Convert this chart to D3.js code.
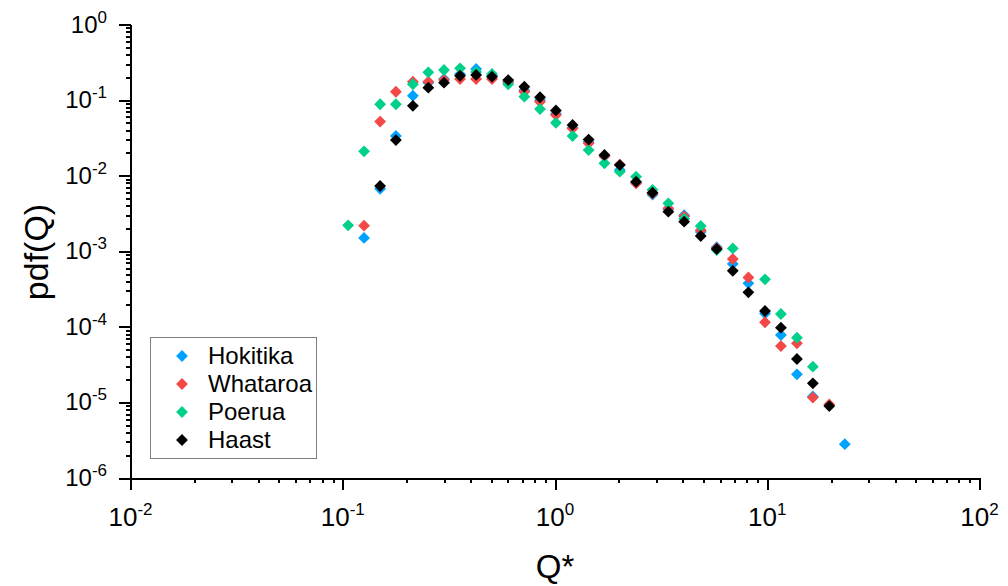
<!DOCTYPE html>
<html>
  <head>
    <meta charset="utf-8">
    <script src="https://d3js.org/d3.v7.min.js"></script>

    <style>
      body {
        margin: 0;
        background: white;
      }
      svg text {
        font-family: "Liberation Sans", Arial, sans-serif;
        fill: black;
      }
      .axis path, .axis line {
        stroke: black;
        stroke-width: 2px;
        shape-rendering: crispEdges;
      }
    </style>

    <script type="text/javascript">
      // Q* bin centres (shared by all four rivers)
      var qBins = [0.106, 0.126, 0.15, 0.178, 0.214, 0.253, 0.30, 0.357, 0.425, 0.505,
                   0.602, 0.717, 0.85, 1.01, 1.21, 1.44, 1.71, 2.02, 2.41, 2.88,
                   3.42, 4.06, 4.86, 5.78, 6.88, 8.15, 9.76, 11.6, 13.8, 16.4, 19.6, 23.2];

      // pdf values per river, null where the river has no point
      var hokitika = [null, 0.0015, 0.0067, 0.0335, 0.114, 0.17, 0.19, 0.22, 0.258, 0.21,
                      0.175, 0.135, 0.10, 0.066, 0.043, 0.028, 0.018, 0.0119, 0.0081, 0.0056,
                      0.0036, 0.0030, 0.0018, 0.00113, 0.00068, 0.000376, 0.00015, 0.000078, 0.0000235, 0.000012, null, 0.0000028];
      var whataroa = [null, 0.00218, 0.052, 0.129, 0.175, 0.175, 0.185, 0.19, 0.19, 0.19,
                      0.17, 0.129, 0.095, 0.0635, 0.042, 0.0268, 0.018, 0.014, 0.0079, 0.0058,
                      0.0037, 0.0029, 0.0019, 0.0011, 0.00079, 0.00045, 0.000115, 0.0000557, 0.0000605, 0.0000116, 0.0000094, null];
      var poerua = [0.0022, 0.021, 0.088, 0.088, 0.162, 0.233, 0.25, 0.263, 0.235, 0.222,
                    0.162, 0.111, 0.076, 0.05, 0.0335, 0.0218, 0.0146, 0.0113, 0.0097, 0.0065,
                    0.0043, 0.0027, 0.00216, 0.00104, 0.00109, null, 0.000425, 0.000148, 0.0000718, 0.0000297, null, null];
      var haast = [null, null, 0.0073, 0.0296, 0.084, 0.146, 0.17, 0.21, 0.215, 0.204,
                   0.184, 0.150, 0.109, 0.073, 0.0468, 0.030, 0.0188, 0.0138, 0.0083, 0.00595,
                   0.00334, 0.00246, 0.00159, 0.00107, 0.00055, 0.000286, 0.000162, 0.0000975, 0.0000375, 0.0000179, 0.00000895, null];

      var seriesNames = ["Hokitika", "Whataroa", "Poerua", "Haast"];
      var seriesValues = [hokitika, whataroa, poerua, haast];
      var seriesColors = ["#00a2ff", "#f24848", "#00d08a", "#000000"];

      // decade exponents for the tick labels
      var xExponents = [-2, -1, 0, 1, 2];
      var yExponents = [-6, -5, -4, -3, -2, -1, 0];

      function draw() {
          "use strict";
          var width = 1008,
              height = 586;

          var svg = d3.select("body")
            .append("svg")
            .attr("width", width)
            .attr("height", height);

          var x = d3.scaleLog().domain([1e-2, 1e2]).range([130.5, 979.5]);
          var y = d3.scaleLog().domain([1e-6, 1]).range([478, 24.5]);

          // majors at each decade, minors at 2..9
          function minors(exps) {
            var out = [];
            exps.slice(0, -1).forEach(function(e) {
              for (var k = 2; k <= 9; k++) out.push(k * Math.pow(10, e));
            });
            return out;
          }
          var xMajor = xExponents.map(function(e) { return Math.pow(10, e); });
          var yMajor = yExponents.map(function(e) { return Math.pow(10, e); });

          var xAxis = svg.append("g").attr("class", "axis")
            .attr("transform", "translate(0," + y.range()[0] + ")");
          xAxis.call(d3.axisBottom(x).tickValues(xMajor).tickSize(12).tickSizeOuter(0).tickFormat(""));
          xAxis.append("g")
            .call(d3.axisBottom(x).tickValues(minors(xExponents)).tickSize(5).tickFormat(""))
            .select(".domain").remove();

          var yAxis = svg.append("g").attr("class", "axis")
            .attr("transform", "translate(" + x.range()[0] + ",0)");
          yAxis.call(d3.axisLeft(y).tickValues(yMajor).tickSize(12).tickSizeOuter(0).tickFormat(""));
          yAxis.append("g")
            .call(d3.axisLeft(y).tickValues(minors(yExponents)).tickSize(5).tickFormat(""))
            .select(".domain").remove();

          // power-of-ten labels with superscript
          var xl = svg.append("g").selectAll("text")
            .data(xExponents).enter()
            .append("text")
            .attr("x", function(d) { return x(Math.pow(10, d)); })
            .attr("y", 526)
            .attr("text-anchor", "middle")
            .style("font-size", "26px");
          xl.append("tspan").text("10");
          xl.append("tspan").attr("dy", -11).style("font-size", "17px").text(function(d) { return d; });

          var yl = svg.append("g").selectAll("text")
            .data(yExponents).enter()
            .append("text")
            .attr("x", 107)
            .attr("y", function(d) { return y(Math.pow(10, d)) + 8; })
            .attr("text-anchor", "end")
            .style("font-size", "24px");
          yl.append("tspan").text("10");
          yl.append("tspan").attr("dy", -10).style("font-size", "17px").text(function(d) { return d; });

          // axis titles
          svg.append("text")
            .attr("x", 555).attr("y", 578)
            .attr("text-anchor", "middle")
            .style("font-size", "33px")
            .text("Q*");
          svg.append("text")
            .attr("transform", "translate(48,252) rotate(-90)")
            .attr("text-anchor", "middle")
            .style("font-size", "34px")
            .text("pdf(Q)");

          // diamond markers
          var diamond = d3.symbol().type(d3.symbolSquare).size(70);

          seriesValues.forEach(function(vals, i) {
            var pts = qBins.map(function(q, j) { return [q, vals[j]]; })
              .filter(function(p) { return p[1] != null; });
            svg.append("g").selectAll("path")
              .data(pts).enter()
              .append("path")
              .attr("d", diamond)
              .attr("fill", seriesColors[i])
              .attr("transform", function(p) {
                return "translate(" + x(p[0]) + "," + y(p[1]) + ") rotate(45)";
              });
          });

          // legend
          var legend = svg.append("g");
          legend.append("rect")
            .attr("x", 150.5).attr("y", 337.5)
            .attr("width", 166).attr("height", 121)
            .attr("fill", "white")
            .attr("stroke", "#808080")
            .attr("stroke-width", 1);
          var rows = legend.selectAll("g.row")
            .data(seriesNames).enter()
            .append("g")
            .attr("transform", function(d, i) { return "translate(0," + (356 + i * 28) + ")"; });
          rows.append("path")
            .attr("d", diamond)
            .attr("transform", "translate(182,0) rotate(45)")
            .attr("fill", function(d, i) { return seriesColors[i]; });
          rows.append("text")
            .attr("x", 208).attr("y", 8)
            .style("font-size", "24px")
            .text(function(d) { return d; });
      }
    </script>
  </head>
<body>
  <script type="text/javascript">
    draw();
  </script>
</body>
</html>
